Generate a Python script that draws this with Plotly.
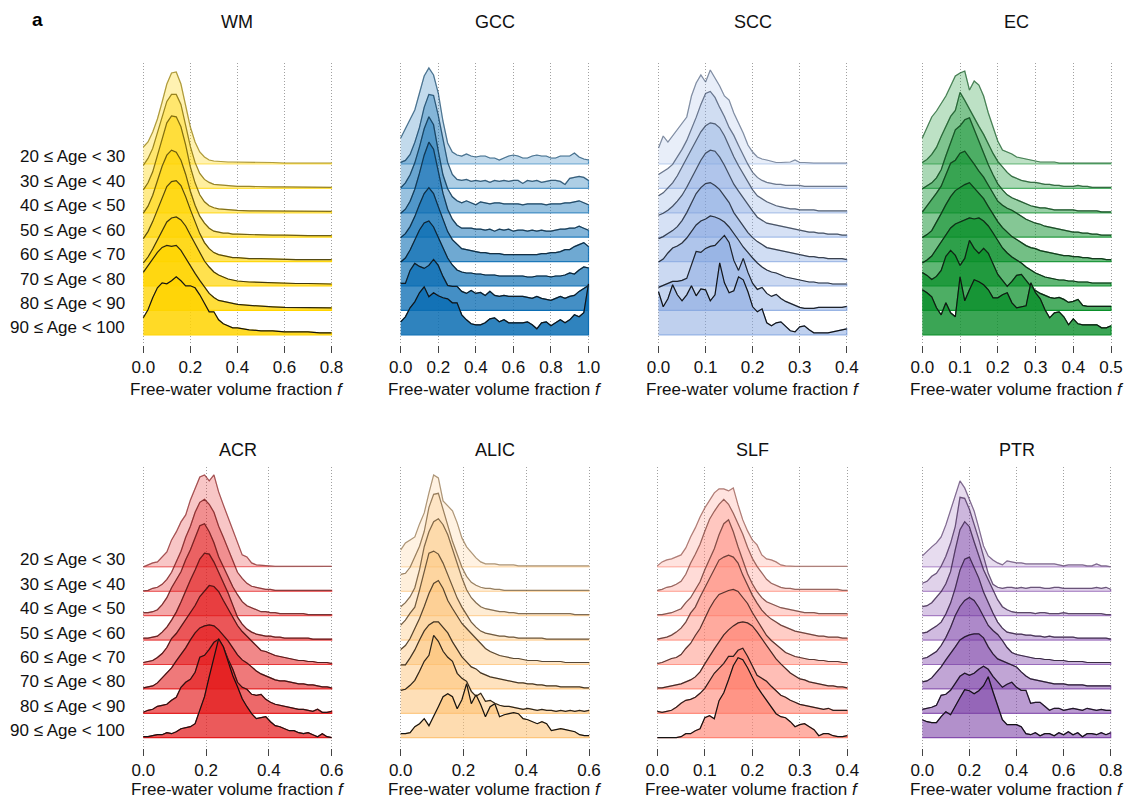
import plotly.graph_objects as go

# ---------------- data (relative density heights) ----------------
AGE_GROUPS = ["20 ≤ Age < 30", "30 ≤ Age < 40", "40 ≤ Age < 50", "50 ≤ Age < 60",
              "60 ≤ Age < 70", "70 ≤ Age < 80", "80 ≤ Age < 90", "90 ≤ Age < 100"]
REGIONS = ["WM", "GCC", "SCC", "EC", "ACR", "ALIC", "SLF", "PTR"]

WM_X = [0, .02, .04, .06, .08, .10, .12, .14, .16, .18, .20, .22, .24, .26, .28, .30, .32, .34, .36, .38, .40,
        .45, .50, .55, .60, .65, .70, .75, .80]
WM_DENS = [
    [17, 22, 32, 45, 62, 80, 91, 92, 80, 60, 37, 22, 12, 7, 4, 3, 2.5, 2, 2, 2, 2, 1.5, 1.5, 1.5, 1, 1, 1, 1, 1],
    [23, 30, 40, 55, 72, 87, 94, 94, 84, 64, 42, 26, 15, 9, 6, 4, 3.5, 3, 3, 2.5, 2, 2, 1.5, 1.5, 1.5, 1.5, 1, 1, 1],
    [23, 30, 41, 57, 75, 90, 97, 96, 86, 68, 46, 30, 18, 11, 7, 5, 4, 3.5, 3, 3, 2.5, 2, 2, 1.5, 1.5, 1.5, 1.5, 1.5, 1.5],
    [24, 31, 42, 56, 71, 82, 87, 85, 77, 63, 46, 32, 21, 14, 9, 6, 5, 4, 4, 3, 3, 2.5, 2, 2, 2, 1.5, 1.5, 1.5, 1.5],
    [23, 30, 40, 52, 64, 75, 80, 81, 76, 65, 52, 39, 28, 19, 13, 9, 7, 6, 5, 4, 4, 3, 3, 2.5, 2.5, 2, 2, 2, 2],
    [23, 29, 37, 46, 56, 64, 68, 69, 66, 60, 51, 42, 33, 25, 19, 14, 11, 9, 7, 6, 5, 4, 3.5, 3, 3, 2.5, 2.5, 2, 2],
    [38, 45, 52, 58, 63, 65, 64, 65, 60, 52, 45, 37, 30, 23, 17, 13, 10, 9, 8, 7, 6, 5, 4, 3.5, 3, 3, 3, 2.5, 2.5],
    [17, 25, 37, 47, 52, 51, 54, 58, 54, 49, 49, 47, 40, 32, 23, 23, 15, 11, 9, 7, 7, 5, 4, 4, 3, 3, 3, 2, 2],
]

GCC_X = [0, .025, .05, .075, .1, .125, .15, .175, .2, .225, .25, .275, .3, .325, .35, .375, .4, .425, .45, .475,
         .5, .525, .55, .575, .6, .625, .65, .675, .7, .725, .75, .775, .8, .825, .85, .875, .9, .925, .95, .975, 1.0]
GCC_DENS = [
    [26, 35, 44, 54, 71, 88, 96, 89, 71, 43, 21, 12, 9, 8, 10, 8, 7, 8, 8, 6, 6, 4, 6, 8, 9, 8, 6, 6, 8, 9, 8, 8, 6, 6, 8, 8, 8, 11, 7, 5, 4],
    [26, 28, 34, 46, 61, 81, 94, 93, 73, 49, 26, 14, 9, 8, 9, 7, 8, 7, 8, 6, 8, 7, 8, 7, 8, 8, 5, 8, 7, 8, 6, 7, 8, 8, 7, 4, 10, 11, 12, 11, 8],
    [25, 30, 38, 50, 66, 84, 96, 88, 62, 38, 24, 16, 12, 10, 12, 10, 8, 11, 10, 9, 10, 10, 9, 9, 9, 9, 8, 9, 9, 9, 9, 8, 9, 9, 9, 10, 10, 11, 12, 10, 8],
    [24, 28, 36, 48, 64, 82, 95, 88, 66, 44, 28, 18, 12, 9, 9, 9, 8, 8, 7, 8, 6, 8, 7, 8, 6, 7, 7, 6, 7, 6, 7, 6, 6, 7, 8, 8, 9, 9, 11, 9, 7],
    [24, 28, 35, 45, 57, 68, 74, 68, 55, 42, 30, 22, 17, 13, 12, 11, 10, 9, 9, 8, 8, 8, 7, 7, 7, 7, 7, 7, 7, 7, 8, 8, 9, 9, 10, 12, 12, 15, 17, 19, 15],
    [24, 28, 36, 46, 56, 63, 65, 59, 49, 38, 28, 21, 16, 14, 13, 13, 12, 12, 11, 11, 11, 10, 10, 10, 10, 10, 10, 9, 9, 10, 10, 10, 9, 10, 10, 11, 13, 12, 16, 19, 18],
    [27, 27, 40, 47, 44, 42, 45, 51, 45, 34, 25, 24, 24, 19, 17, 20, 17, 18, 15, 19, 15, 14, 15, 14, 14, 14, 14, 13, 12, 14, 12, 11, 10, 12, 14, 12, 14, 15, 19, 22, 25],
    [13, 18, 27, 33, 42, 48, 38, 42, 39, 37, 36, 32, 32, 20, 15, 11, 10, 10, 12, 16, 17, 13, 15, 12, 12, 12, 12, 13, 10, 6, 12, 13, 9, 12, 15, 12, 15, 20, 18, 22, 51],
]

SCC_X = [0, .01, .02, .03, .04, .05, .06, .07, .08, .09, .10, .11, .12, .13, .14, .15, .16, .17, .18, .19, .20,
         .21, .22, .23, .24, .25, .26, .27, .28, .29, .30, .31, .32, .33, .34, .35, .36, .37, .38, .39, .40]
SCC_DENS = [
    [16, 28, 22, 28, 35, 41, 47, 68, 81, 89, 82, 94, 86, 78, 68, 64, 51, 41, 31, 19, 12, 7, 5, 4, 3, 1.5, 1.5, 1.5, 2, 4, 1.5, 1.5, 1, 1, 1, 1, 1, 1, 1, 1, 1],
    [14, 17, 20, 24, 31, 39, 48, 59, 71, 84, 95, 97, 91, 81, 72, 61, 53, 43, 33, 24, 16, 11, 8, 6, 5, 4, 4, 3, 3, 3, 3, 2, 2, 2, 2, 2, 2, 2, 2, 2, 2],
    [17, 20, 25, 30, 37, 46, 54, 63, 73, 81, 87, 90, 89, 85, 77, 66, 56, 47, 39, 31, 23, 17, 14, 11, 9, 7, 6, 5, 4, 4, 3, 3, 3, 3, 2, 2, 2, 2, 2, 2, 2],
    [22, 24, 27, 31, 36, 42, 50, 59, 68, 77, 84, 87, 86, 80, 72, 62, 53, 46, 39, 32, 26, 20, 17, 14, 13, 12, 11, 10, 9, 8, 7, 6, 5, 5, 4, 4, 3, 3, 3, 2, 2],
    [23, 25, 28, 31, 35, 41, 49, 59, 68, 74, 78, 79, 76, 72, 66, 59, 49, 42, 35, 29, 24, 20, 17, 14, 13, 12, 11, 10, 9, 8, 7, 6, 5, 5, 4, 4, 3, 3, 3, 3, 2],
    [24, 27, 33, 38, 40, 43, 48, 55, 61, 65, 67, 70, 69, 67, 64, 59, 53, 46, 39, 33, 28, 23, 19, 16, 14, 13, 11, 9, 8, 7, 6, 5, 4, 4, 3, 3, 3, 2, 2, 2, 2],
    [23, 25, 27, 29, 29, 30, 32, 46, 59, 58, 62, 64, 65, 70, 75, 68, 50, 40, 52, 38, 27, 21, 23, 17, 14, 16, 12, 9, 7, 5, 3, 2, 2, 2, 3, 3, 3, 3, 3, 3, 4],
    [43, 28, 36, 50, 40, 34, 40, 49, 39, 46, 45, 34, 40, 72, 52, 42, 44, 58, 55, 43, 28, 23, 26, 12, 9, 12, 13, 8, 4, 3, 8, 9, 5, 2, 2, 2, 2, 3, 4, 5, 6],
]

EC_X = [0, .0125, .025, .0375, .05, .0625, .075, .0875, .1, .1125, .125, .1375, .15, .1625, .175, .1875, .2,
        .2125, .225, .2375, .25, .2625, .275, .2875, .3, .3125, .325, .3375, .35, .3625, .375, .3875, .4,
        .4125, .425, .4375, .45, .4625, .475, .4875, .5]
EC_DENS = [
    [26, 37, 47, 53, 60, 68, 78, 88, 91, 93, 74, 83, 79, 68, 51, 36, 23, 14, 12, 10, 7, 6, 5, 4, 3, 2, 2, 2, 2, 1, 1, 1, 1, 1, 1, 1, 1, 1, 1, 1, 1],
    [26, 29, 34, 41, 52, 62, 72, 78, 96, 88, 79, 71, 62, 54, 44, 35, 27, 21, 16, 12, 10, 8, 7, 6, 6, 5, 4, 4, 3, 3, 2, 2, 2, 3, 2, 2, 1, 1, 1, 1, 1],
    [24, 27, 30, 35, 43, 57, 70, 83, 87, 93, 95, 83, 73, 60, 48, 38, 29, 23, 18, 15, 13, 11, 9, 7, 6, 5, 5, 4, 3, 3, 3, 3, 3, 2, 2, 2, 2, 2, 1, 1, 1],
    [25, 31, 38, 44, 51, 62, 74, 77, 84, 86, 80, 73, 66, 60, 52, 44, 36, 32, 29, 27, 24, 21, 18, 16, 14, 13, 11, 10, 9, 8, 7, 6, 5, 5, 4, 4, 3, 3, 2, 2, 2],
    [24, 27, 31, 39, 48, 57, 65, 71, 74, 77, 79, 74, 69, 63, 55, 47, 40, 34, 29, 25, 22, 19, 16, 14, 13, 11, 10, 9, 8, 7, 6, 6, 5, 5, 4, 4, 3, 3, 3, 2, 2],
    [23, 26, 30, 37, 45, 52, 58, 62, 64, 66, 68, 67, 68, 65, 60, 53, 45, 38, 33, 29, 26, 23, 19, 16, 13, 11, 9, 8, 7, 6, 6, 5, 5, 4, 4, 4, 3, 3, 3, 3, 3],
    [38, 35, 31, 34, 40, 54, 60, 55, 45, 52, 70, 62, 57, 62, 57, 46, 36, 30, 24, 29, 35, 36, 30, 24, 20, 17, 15, 13, 12, 13, 11, 8, 9, 11, 5, 4, 4, 4, 4, 4, 4],
    [45, 42, 38, 27, 20, 32, 22, 18, 58, 34, 45, 55, 53, 50, 45, 37, 37, 40, 42, 32, 27, 28, 29, 52, 42, 36, 25, 17, 22, 23, 18, 10, 16, 11, 10, 10, 10, 10, 7, 7, 9],
]

ACR_X = [0, .015, .03, .045, .06, .075, .09, .105, .12, .135, .15, .165, .18, .195, .21, .225, .24, .255, .27, .285,
         .3, .315, .33, .345, .36, .375, .39, .405, .42, .435, .45, .465, .48, .495, .51, .525, .54, .555, .57, .585, .6]
ACR_DENS = [
    [0, 2, 4, 5, 10, 15, 27, 35, 45, 52, 67, 79, 90, 92, 86, 92, 75, 62, 49, 37, 24, 12, 10, 4, 2, 1.5, 1, 1, .5, .5, .5, .5, .5, .5, .5, .5, .5, .5, .5, .5, .5],
    [.5, 1, 3, 4, 7, 12, 19, 29, 40, 54, 65, 79, 89, 92, 87, 79, 65, 54, 42, 30, 19, 13, 8, 5, 4, 3, 2, 2, 1, 1, 1, 1, 1, 1, 1, 1, 1, 1, 1, 1, 1],
    [3, 3, 4, 6, 11, 18, 28, 36, 44, 56, 66, 78, 90, 92, 84, 73, 59, 49, 39, 29, 21, 14, 10, 8, 6, 4, 4, 3, 3, 2, 2, 2, 2, 2, 2, 1, 1, 1, 1, 1, 1],
    [2, 2, 3, 4, 8, 13, 20, 28, 38, 50, 60, 70, 81, 87, 86, 78, 68, 57, 47, 35, 23, 16, 11, 8, 6, 5, 4, 4, 3, 3, 2, 2, 2, 2, 2, 2, 1, 1, 1, 1, 1],
    [2, 3, 4, 7, 11, 17, 26, 31, 38, 46, 53, 59, 68, 74, 79, 78, 73, 64, 56, 48, 39, 33, 28, 23, 18, 14, 13, 11, 9, 8, 7, 6, 5, 4, 4, 3, 3, 2, 2, 2, 1],
    [1, 2, 3, 6, 11, 15, 21, 28, 34, 41, 49, 56, 61, 63, 64, 63, 59, 54, 48, 41, 34, 29, 26, 22, 18, 15, 13, 11, 9, 8, 8, 7, 6, 5, 5, 4, 4, 3, 2, 2, 1],
    [1, 3, 4, 7, 8, 9, 13, 16, 26, 31, 34, 41, 56, 58, 64, 71, 74, 66, 54, 44, 31, 26, 24, 19, 18, 19, 14, 11, 9, 8, 7, 6, 5, 4, 4, 3, 2, 4, 1, 1, 2],
    [1, 1, 2, 3, 3, 5, 4, 6, 9, 10, 11, 14, 27, 41, 61, 81, 99, 91, 76, 62, 51, 39, 31, 24, 19, 20, 21, 16, 12, 11, 9, 7, 7, 5, 4, 5, 3, 1, 4, 1, 0],
]

ALIC_X = [0, .015, .03, .045, .06, .075, .09, .105, .12, .135, .15, .165, .18, .195, .21, .225, .24, .255, .27, .285,
          .3, .315, .33, .345, .36, .375, .39, .405, .42, .435, .45, .465, .48, .495, .51, .525, .54, .555, .57, .585, .6]
ALIC_DENS = [
    [17, 24, 27, 30, 43, 54, 74, 92, 89, 66, 61, 56, 44, 29, 20, 14, 9, 5, 3, 3, 3, 2, 2, 2, 2, 1, 1, 1, 1, 1, 1, 1, 1, 1, 1, 1, 1, 1, 1, 1, 1],
    [17, 18, 24, 34, 45, 60, 84, 97, 98, 82, 65, 50, 37, 24, 15, 9, 6, 4, 3, 3, 2, 2, 1, 1, 1, 1, 1, 1, 1, 1, 1, 1, 1, 1, 1, 1, 1, 1, 1, 1, 1],
    [9, 13, 19, 28, 46, 69, 84, 94, 97, 91, 81, 66, 51, 38, 26, 18, 13, 9, 7, 6, 5, 4, 4, 3, 3, 2, 2, 2, 2, 2, 2, 2, 2, 2, 2, 2, 2, 1, 1, 1, 1],
    [15, 20, 27, 33, 50, 68, 87, 89, 86, 77, 65, 53, 42, 33, 25, 18, 13, 9, 7, 6, 5, 4, 4, 3, 3, 2, 2, 2, 2, 2, 2, 1, 1, 1, 1, 1, 1, 1, 1, 1, 1],
    [15, 19, 26, 36, 46, 58, 71, 81, 84, 76, 64, 56, 48, 41, 36, 31, 26, 22, 16, 13, 11, 9, 8, 7, 6, 6, 5, 4, 4, 4, 3, 3, 3, 3, 3, 2, 2, 2, 2, 2, 2],
    [24, 24, 31, 39, 49, 58, 64, 67, 67, 62, 56, 47, 39, 32, 27, 22, 20, 16, 14, 12, 11, 10, 9, 8, 7, 6, 6, 5, 5, 4, 4, 3, 3, 3, 2, 2, 2, 2, 2, 1, 1],
    [23, 24, 28, 33, 42, 52, 58, 78, 72, 62, 56, 52, 40, 35, 32, 22, 17, 20, 12, 13, 10, 8, 7, 7, 6, 5, 4, 5, 4, 3, 4, 3, 3, 2, 3, 2, 3, 2, 3, 2, 3],
    [4, 4, 5, 11, 14, 19, 12, 21, 31, 41, 44, 41, 29, 38, 54, 34, 43, 33, 21, 31, 34, 21, 23, 24, 25, 24, 19, 18, 16, 14, 16, 14, 7, 8, 9, 8, 7, 6, 3, 2, 2],
]

SLF_X = [0, .01, .02, .03, .04, .05, .06, .07, .08, .09, .10, .11, .12, .13, .14, .15, .16, .17, .18, .19, .20,
         .21, .22, .23, .24, .25, .26, .27, .28, .29, .30, .31, .32, .33, .34, .35, .36, .37, .38, .39, .40]
SLF_DENS = [
    [1, 5, 7, 8, 10, 12, 19, 30, 39, 50, 59, 66, 74, 78, 78, 76, 79, 62, 47, 36, 27, 22, 12, 8, 7, 5, 2, 1, .5, .5, .5, .5, .5, .5, .5, .5, .5, .5, .5, .5, .5],
    [1, 2, 4, 5, 7, 10, 17, 28, 37, 47, 60, 72, 80, 87, 92, 87, 78, 68, 57, 44, 33, 25, 18, 12, 8, 6, 4, 3, 3, 2, 2, 2, 2, 2, 2, 2, 2, 2, 2, 1, 1],
    [1, 1, 2, 3, 5, 7, 13, 18, 26, 34, 46, 56, 67, 81, 92, 96, 84, 69, 56, 42, 32, 24, 18, 14, 12, 10, 8, 7, 6, 5, 4, 3, 3, 3, 2, 2, 2, 2, 2, 2, 2],
    [1, 2, 3, 5, 8, 12, 18, 27, 33, 43, 52, 62, 70, 80, 83, 85, 83, 77, 65, 55, 45, 37, 30, 25, 21, 18, 15, 13, 11, 9, 8, 7, 6, 5, 4, 4, 3, 3, 3, 2, 2],
    [1, 2, 4, 6, 7, 10, 16, 21, 29, 36, 46, 56, 64, 70, 72, 74, 75, 73, 67, 61, 52, 44, 36, 29, 24, 20, 16, 12, 10, 8, 7, 6, 5, 5, 4, 4, 3, 3, 3, 2, 2],
    [1, 1, 2, 3, 4, 5, 7, 9, 12, 17, 25, 33, 40, 47, 54, 59, 63, 66, 67, 66, 63, 57, 50, 44, 37, 30, 25, 20, 16, 13, 10, 9, 7, 6, 5, 4, 3, 3, 2, 2, 1],
    [2, 1, 2, 3, 6, 10, 13, 14, 16, 20, 25, 32, 40, 45, 50, 57, 57, 63, 65, 57, 47, 38, 35, 32, 27, 22, 18, 16, 13, 11, 9, 8, 7, 6, 5, 4, 5, 3, 3, 3, 3],
    [0, 0, 0, 0, 0, 1, 4, 4, 7, 9, 20, 22, 19, 37, 45, 58, 72, 80, 78, 70, 60, 51, 44, 37, 30, 24, 21, 20, 16, 11, 13, 14, 11, 8, 2, 4, 4, 2, 1, 1, 2],
]

PTR_X = [0, .02, .04, .06, .08, .10, .12, .14, .16, .18, .20, .22, .24, .26, .28, .30, .32, .34, .36, .38, .40,
         .42, .44, .46, .48, .50, .52, .54, .56, .58, .60, .62, .64, .66, .68, .70, .72, .74, .76, .78, .80]
PTR_DENS = [
    [11, 16, 20, 24, 30, 42, 57, 72, 86, 79, 67, 56, 39, 21, 11, 7, 4, 2, 6, 5, 4, 4, 3, 3, 3, 3, 3, 3, 3, 2, 1, 2, 2, 2, 2, 1, 1, 3, 1, 1, 0],
    [8, 10, 15, 18, 25, 35, 48, 65, 94, 93, 82, 68, 52, 35, 18, 7, 4, 3, 4, 4, 3, 4, 3, 4, 4, 4, 3, 3, 4, 4, 3, 3, 3, 3, 3, 3, 3, 4, 3, 4, 2],
    [9, 10, 13, 18, 24, 32, 44, 66, 86, 94, 89, 74, 59, 46, 36, 26, 16, 9, 6, 4, 3, 3, 3, 3, 2, 3, 3, 2, 2, 2, 3, 2, 2, 2, 2, 2, 2, 2, 2, 1, 1],
    [7, 8, 11, 14, 18, 26, 37, 52, 70, 81, 83, 73, 62, 48, 37, 27, 18, 12, 8, 7, 6, 6, 5, 5, 4, 4, 3, 4, 3, 3, 3, 3, 3, 2, 2, 2, 2, 2, 2, 2, 1],
    [6, 7, 10, 13, 19, 27, 37, 49, 58, 64, 67, 64, 57, 48, 39, 34, 30, 24, 17, 12, 10, 9, 8, 7, 6, 6, 5, 5, 4, 4, 4, 3, 3, 3, 3, 2, 2, 2, 2, 2, 2],
    [7, 8, 11, 16, 22, 29, 35, 42, 49, 52, 54, 55, 55, 51, 42, 35, 30, 28, 26, 24, 22, 17, 13, 10, 9, 8, 7, 6, 5, 5, 5, 4, 4, 4, 4, 3, 3, 3, 3, 3, 3],
    [4, 5, 6, 8, 18, 19, 23, 30, 37, 40, 38, 40, 44, 47, 44, 37, 31, 26, 29, 31, 26, 23, 23, 10, 11, 11, 7, 3, 5, 5, 3, 4, 5, 4, 3, 5, 4, 3, 4, 3, 3],
    [18, 16, 15, 15, 21, 26, 23, 32, 40, 48, 47, 44, 47, 52, 61, 46, 31, 18, 13, 13, 13, 11, 4, 3, 5, 2, 4, 4, 2, 5, 3, 6, 3, 5, 1, 4, 4, 3, 5, 3, 5],
]

WM_TICKS = [0.0, 0.2, 0.4, 0.6, 0.8]
GCC_TICKS = [0.0, 0.2, 0.4, 0.6, 0.8, 1.0]
SCC_TICKS = [0.0, 0.1, 0.2, 0.3, 0.4]
EC_TICKS = [0.0, 0.1, 0.2, 0.3, 0.4, 0.5]
ACR_TICKS = [0.0, 0.2, 0.4, 0.6]
ALIC_TICKS = [0.0, 0.2, 0.4, 0.6]
SLF_TICKS = [0.0, 0.1, 0.2, 0.3, 0.4]
PTR_TICKS = [0.0, 0.2, 0.4, 0.6, 0.8]

PANELS = [
    (WM_X, WM_DENS, WM_TICKS), (GCC_X, GCC_DENS, GCC_TICKS),
    (SCC_X, SCC_DENS, SCC_TICKS), (EC_X, EC_DENS, EC_TICKS),
    (ACR_X, ACR_DENS, ACR_TICKS), (ALIC_X, ALIC_DENS, ALIC_TICKS),
    (SLF_X, SLF_DENS, SLF_TICKS), (PTR_X, PTR_DENS, PTR_TICKS),
]

# ---------------- styles / layout ----------------
WIN_W, WIN_H = 1137, 808
OFF = 8                       # default page (body) margin around the plot div
FW, FH = WIN_W - 2 * OFF, WIN_H - 2 * OFF
SPACING = 24.4
FONT = "Liberation Sans, Arial, Helvetica, sans-serif"


def fx(px):
    return (px - OFF) / FW


def fy(py):
    return 1 - (py - OFF) / FH


# base fill colour and (top, bottom) opacity ramp per panel
STYLE = [
    ((255, 212, 0), 0.30, 0.85),
    ((11, 109, 179), 0.25, 0.85),
    ((127, 162, 222), 0.18, 0.50),
    ((10, 143, 42), 0.27, 0.80),
    ((227, 26, 28), 0.25, 0.72),
    ((253, 191, 111), 0.20, 0.55),
    ((255, 127, 110), 0.22, 0.62),
    ((123, 63, 166), 0.18, 0.58),
]
ROWS = [dict(top=63, bottom=345, base=334.8, title=22, xtitle=390),
        dict(top=467, bottom=748, base=737.7, title=450, xtitle=None)]
COLS = [[(143.3, 331.5), (400.7, 588.5), (658.5, 846.8), (922.3, 1111.0)],
        [(143.3, 331.7), (400.7, 589.0), (657.3, 847.3), (922.3, 1110.7)]]

fig = go.Figure()
annotations = []
layout_axes = {}

for k, (xs, dens, ticks) in enumerate(PANELS):
    row, col = divmod(k, 4)
    r = ROWS[row]
    px0, px1 = COLS[row][col]
    xmax = ticks[-1]
    scale = (px1 - px0) / xmax
    pad = 2.0
    xa = "x" if k == 0 else f"x{k + 1}"
    ya = "y" if k == 0 else f"y{k + 1}"
    rgb, a0, a1 = STYLE[k]
    n = len(dens)
    for i, h in enumerate(dens):
        b = (n - 1 - i) * SPACING
        t = i / (n - 1)
        a = a0 + (a1 - a0) * t
        la = 0.35 + 0.65 * t
        yy = [b + v for v in h]
        fill = f"rgba({rgb[0]},{rgb[1]},{rgb[2]},{a:.3f})"
        edge = f"rgba({rgb[0]},{rgb[1]},{rgb[2]},{min(1.0, a + 0.3):.3f})"
        fig.add_trace(go.Scatter(
            x=list(xs) + [xs[-1], xs[0]], y=yy + [b, b], mode="lines",
            fill="toself", fillcolor=fill, line=dict(color=edge, width=1.2),
            xaxis=xa, yaxis=ya, hoverinfo="skip", showlegend=False))
        fig.add_trace(go.Scatter(
            x=xs, y=yy, mode="lines",
            line=dict(color=f"rgba(20,20,20,{la:.3f})", width=1.2),
            xaxis=xa, yaxis=ya, hoverinfo="skip", showlegend=False))
        if col == 0:
            annotations.append(dict(
                text=AGE_GROUPS[i], xref="paper", x=fx(127), xanchor="right",
                yref=ya, y=b + 7, yanchor="middle", showarrow=False,
                font=dict(family=FONT, size=17, color="#111")))
    key = "" if k == 0 else str(k + 1)
    layout_axes[f"xaxis{key}"] = dict(
        domain=[fx(px0 - pad), fx(px1 + pad)],
        range=[-pad / scale, xmax + pad / scale],
        anchor=ya, automargin=False,
        showgrid=True, gridcolor="#a0a0a0", griddash="1px,2px", gridwidth=1,
        zeroline=False, showline=False,
        tickmode="array", tickvals=ticks, ticktext=[f"{v:.1f}" for v in ticks],
        ticks="outside", ticklen=7, tickcolor="#444", tickwidth=1,
        tickfont=dict(family=FONT, size=17, color="#111"), fixedrange=True)
    layout_axes[f"yaxis{key}"] = dict(
        domain=[fy(r["bottom"]), fy(r["top"])],
        range=[-(r["bottom"] - r["base"]), r["base"] - r["top"]],
        anchor=xa, automargin=False, showgrid=False, zeroline=False, showline=False,
        showticklabels=False, ticks="", fixedrange=True)
    cx = fx((px0 + px1) / 2)
    annotations.append(dict(text=REGIONS[k], xref="paper", yref="paper", x=cx,
                            y=fy(r["title"]), xanchor="center", yanchor="middle",
                            showarrow=False, font=dict(family=FONT, size=18, color="#111")))
    if r["xtitle"] is not None:
        ty, tanchor = fy(r["xtitle"]), "middle"
    else:
        ty, tanchor = 0.0, "bottom"   # bottom row: sit on the lower edge of the figure
    annotations.append(dict(text="Free-water volume fraction <i>f</i>", xref="paper", yref="paper",
                            x=cx, y=ty, xanchor="center", yanchor=tanchor, borderpad=0,
                            showarrow=False, font=dict(family=FONT, size=17, color="#111")))

# panel letter: hang from the top edge of the figure so it is not clipped
annotations.append(dict(text="<b>a</b>", xref="paper", yref="paper", x=fx(31), y=1.0,
                        xanchor="left", yanchor="top", borderpad=0, showarrow=False,
                        font=dict(family=FONT, size=19, color="#000")))

fig.update_layout(template="none", width=FW, height=FH, autosize=False,
                  margin=dict(l=0, r=0, t=0, b=0, pad=0, autoexpand=False),
                  paper_bgcolor="white", plot_bgcolor="white", showlegend=False,
                  annotations=annotations, **layout_axes)
fig.write_html("out.html")
